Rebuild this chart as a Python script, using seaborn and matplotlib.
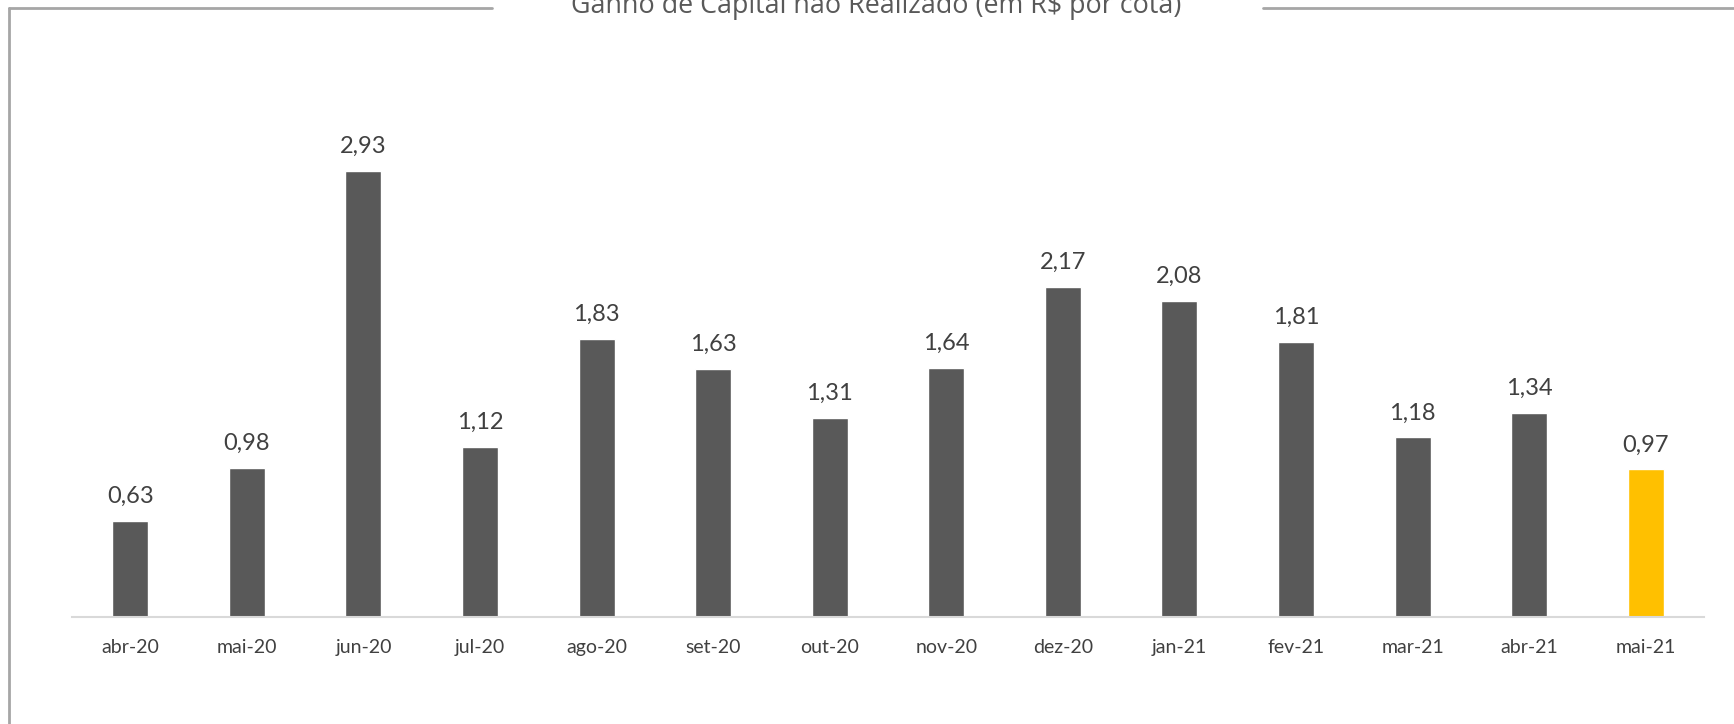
import matplotlib
matplotlib.use("Agg")
import matplotlib.pyplot as plt
from matplotlib.lines import Line2D
import numpy as np
import pandas as pd
import seaborn as sns

meses = ['abr-20', 'mai-20', 'jun-20', 'jul-20', 'ago-20', 'set-20', 'out-20',
         'nov-20', 'dez-20', 'jan-21', 'fev-21', 'mar-21', 'abr-21', 'mai-21']
ganho = [0.63, 0.98, 2.93, 1.12, 1.83, 1.63, 1.31, 1.64, 2.17, 2.08, 1.81, 1.18, 1.34, 0.97]
destaque = ['mai-21']

titulo = 'Ganho de Capital não Realizado (em R$ por cota)'

df = pd.DataFrame({'mes': meses, 'valor': ganho})
df['cor'] = np.where(df['mes'].isin(destaque), 'atual', 'hist')

sns.set_style('white')
plt.rcParams['font.family'] = ['Lato', 'DejaVu Sans']

fig = plt.figure(figsize=(17.34, 7.24), dpi=100)
# eixo: 72..1704 px na horizontal, linha de base em y=617 px
ax = fig.add_axes([72/1734, 107/724, 1632/1734, 502/724])

sns.barplot(data=df, x='mes', y='valor', hue='cor', palette={'hist': '#595959', 'atual': '#FFC000'},
            width=0.31, dodge=False, legend=False, ax=ax, saturation=1)

ax.set_ylim(0, 3.3)
ax.set_xlim(-0.5, len(meses) - 0.5)
for s in ['top', 'right', 'left']:
    ax.spines[s].set_visible(False)
ax.spines['bottom'].set_color('#d9d9d9')
ax.spines['bottom'].set_linewidth(1.5)
ax.set_yticks([])
ax.set_xlabel('')
ax.set_ylabel('')
ax.tick_params(axis='x', length=0, pad=16, labelsize=14, labelcolor='#404040')

for i, v in enumerate(ganho):
    ax.annotate(f'{v:.2f}'.replace('.', ','), (i, v), xytext=(0, 13), textcoords='offset points',
                ha='center', va='baseline', fontsize=17, color='#404040')

# moldura
cinza = '#a6a6a6'
fig.add_artist(Line2D([9/1734, 9/1734], [0, 1 - 8/724], color=cinza, lw=2, transform=fig.transFigure))
fig.add_artist(Line2D([9/1734, 492/1734], [1 - 8/724, 1 - 8/724], color=cinza, lw=2, transform=fig.transFigure))
fig.add_artist(Line2D([1263/1734, 1], [1 - 8/724, 1 - 8/724], color=cinza, lw=2, transform=fig.transFigure))

fig.text(876/1734, 1 - 13/724, titulo, ha='center', va='baseline', fontsize=19.4, color='#595959',
         family=['Open Sans', 'DejaVu Sans'])

fig.savefig('out.png', dpi=100)
